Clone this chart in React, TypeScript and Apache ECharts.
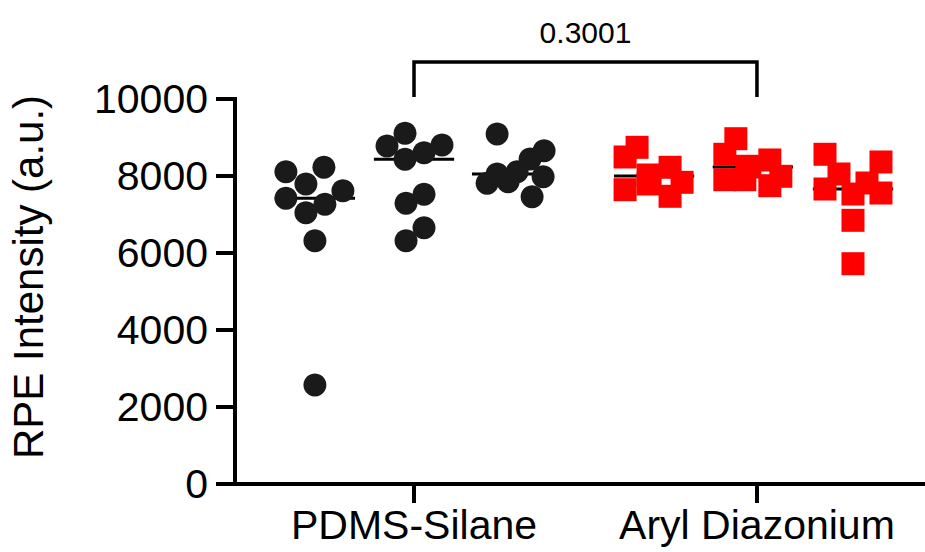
import React, { useEffect, useRef } from "react";
import * as echarts from "echarts";

// ---- data ----
const categories = ["PDMS-Silane", "Aryl Diazonium"];
const categoryPositions = [1, 2];
const yTicks = [0, 2000, 4000, 6000, 8000, 10000];
const yTitle = "RPE Intensity (a.u.)";
const pValueLabel = "0.3001";

const pdms1 = [8112, 8226, 7792, 7421, 7618, 7047, 7265, 6319, 2571];
const pdms2 = [9109, 8779, 8805, 8605, 8434, 7525, 7291, 6657, 6319];
const pdms3 = [9091, 8657, 8442, 8112, 8050, 7810, 7852, 7982, 7462];
const aryl1 = [8745, 8494, 7644, 8226, 7836, 7473, 8026, 7792, 8000];
const aryl2 = [8969, 8564, 7904, 8416, 7992, 7748, 8252, 7904, 8234];
const aryl3 = [8564, 8364, 8052, 7662, 7818, 7532, 7558, 6849, 5722];

// sub-group centres on the x value axis, and horizontal jitter (x-axis units x 1/343)
const subCenters = [0.711, 1.0, 1.286, 1.7, 1.988, 2.28];
const jit1 = [-29, 9, -9, -29, 28, -9, 10, 0, 0];
const jit2 = [-9, -27, 28, 10, -9, 10, -8, 10, -8];
const jit3 = [-15, 32, 18, 5, -15, -25, -4, 31, 20];
const jit4 = [-17, -29, -29, 16, 28, 16, -6, -6, -4];
const jit5 = [-17, -28, -28, 17, 28, 17, -6, -8, -3];
const jit6 = [-28, 28, -14, -28, 14, 0, 28, 0, 0];

const groups = [
  { values: pdms1, jitter: jit1, symbol: "circle", color: "#1a1a1a" },
  { values: pdms2, jitter: jit2, symbol: "circle", color: "#1a1a1a" },
  { values: pdms3, jitter: jit3, symbol: "circle", color: "#1a1a1a" },
  { values: aryl1, jitter: jit4, symbol: "rect", color: "#ff0000" },
  { values: aryl2, jitter: jit5, symbol: "rect", color: "#ff0000" },
  { values: aryl3, jitter: jit6, symbol: "rect", color: "#ff0000" },
];

const median = (arr: number[]) => {
  const s = [...arr].sort((a, b) => a - b);
  const m = Math.floor(s.length / 2);
  return s.length % 2 ? s[m] : (s[m - 1] + s[m]) / 2;
};

const FONT = "'Liberation Sans', Arial, Helvetica, sans-serif";

export default function App() {
  const ref = useRef<HTMLDivElement>(null);
  useEffect(() => {
    if (!ref.current) return;
    const chart = echarts.init(ref.current, null, { renderer: "svg" });

    const scatterSeries = groups.map((g, gi) => ({
      type: "scatter",
      z: 3,
      symbol: g.symbol,
      symbolSize: 23,
      itemStyle: { color: g.color, opacity: 1 },
      data: g.values.map((v, i) => [subCenters[gi] + g.jitter[i] / 343, v]),
      emphasis: { disabled: true },
    }));

    const medianData = groups.map((g, gi) => [subCenters[gi], median(g.values)]);

    const option: any = {
      animation: false,
      grid: { left: 235, right: 0, top: 99, bottom: 68, containLabel: false },
      xAxis: {
        type: "value",
        min: 0.478,
        max: 2.49,
        splitLine: { show: false },
        axisLine: { lineStyle: { color: "#000", width: 4, cap: "square" } },
        axisTick: {
          show: true,
          length: 19,
          customValues: categoryPositions,
          lineStyle: { color: "#000", width: 4 },
        },
        axisLabel: {
          customValues: categoryPositions,
          formatter: (v: number) => categories[categoryPositions.indexOf(Math.round(v))] ?? "",
          color: "#000",
          fontSize: 41,
          fontFamily: FONT,
          margin: 20,
        },
      },
      yAxis: {
        type: "value",
        min: yTicks[0],
        max: yTicks[yTicks.length - 1],
        interval: yTicks[1] - yTicks[0],
        splitLine: { show: false },
        axisLine: { show: true, lineStyle: { color: "#000", width: 4, cap: "square" } },
        axisTick: { show: true, length: 19, lineStyle: { color: "#000", width: 4 } },
        axisLabel: {
          color: "#000",
          fontSize: 41,
          fontFamily: FONT,
          margin: 27,
          formatter: (v: number) => String(v),
        },
      },
      graphic: [
        {
          type: "text",
          x: 28,
          y: 277,
          rotation: Math.PI / 2,
          style: {
            text: yTitle,
            font: `42px ${FONT}`,
            fill: "#000",
            textAlign: "center",
            textVerticalAlign: "middle",
          },
        },
      ],
      series: [
        {
          type: "custom",
          z: 2,
          data: medianData,
          encode: { x: 0, y: 1 },
          renderItem: (params: any, api: any) => {
            const c = api.value(0);
            const m = api.value(1);
            const p1 = api.coord([c - 0.117, m]);
            const p2 = api.coord([c + 0.117, m]);
            return {
              type: "line",
              shape: { x1: p1[0], y1: p1[1], x2: p2[0], y2: p2[1] },
              style: { stroke: "#000", lineWidth: 3 },
            };
          },
        },
        ...scatterSeries,
        {
          type: "custom",
          z: 4,
          clip: false,
          data: [[categoryPositions[0], categoryPositions[1], yTicks[yTicks.length - 1]]],
          encode: { x: [0, 1], y: 2 },
          renderItem: (params: any, api: any) => {
            const a = api.coord([api.value(0), api.value(2)]);
            const b = api.coord([api.value(1), api.value(2)]);
            const yb = a[1] - 2;
            const yt = a[1] - 37;
            return {
              type: "group",
              children: [
                {
                  type: "polyline",
                  shape: { points: [[a[0], yb], [a[0], yt], [b[0], yt], [b[0], yb]] },
                  style: { stroke: "#000", lineWidth: 3.5, fill: null },
                },
                {
                  type: "text",
                  x: (a[0] + b[0]) / 2,
                  y: a[1] - 67,
                  style: {
                    text: pValueLabel,
                    font: `30px ${FONT}`,
                    fill: "#000",
                    textAlign: "center",
                    textVerticalAlign: "middle",
                  },
                },
              ],
            };
          },
        },
      ],
    };
    chart.setOption(option);
    return () => chart.dispose();
  }, []);

  return (
    <div
      ref={ref}
      style={{ position: "fixed", left: 0, top: 0, width: 925, height: 552, background: "#fff" }}
    />
  );
}
